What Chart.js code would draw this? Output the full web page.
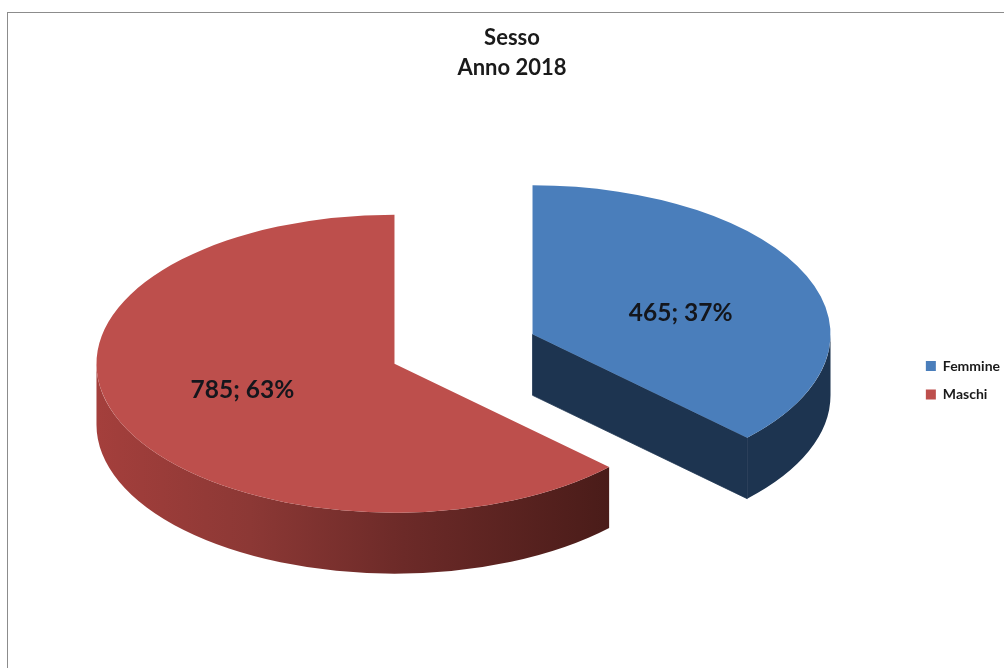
<!DOCTYPE html>
<html>
<head>
<meta charset="utf-8">
<title>Sesso - Anno 2018</title>
<script src="https://cdn.jsdelivr.net/npm/chart.js@4"></script>
<style>
    html, body { margin: 0; padding: 0; background: #fff; overflow: hidden; }
    #frame { position: absolute; left: 7px; top: 12px; right: 0; bottom: 0; border-top: 1px solid #8c8c8c; border-left: 1px solid #8c8c8c; }
    #chart { position: absolute; left: 0; top: 0; }
</style>
</head>
<body>
<div id="frame"></div>
<canvas id="chart" width="1004" height="668"></canvas>
<script>
// Data
const categories = ['Femmine', 'Maschi'];
const values = [465, 785];
const titleLines = ['Sesso', 'Anno 2018'];

const topColors = ['#4a7ebb', '#bd4f4c'];

// 3D look of the pie
const pieX = 463.5;     // pie centre on the page
const pieY = 349;
const squash = 0.5;     // tilt, circle becomes an ellipse
const depth = 61;       // thickness on screen
const explode = 75;     // how far each slice moves out along its bisector
const labelShift = [[0, 10], [-4, -5]];

const total = values.reduce((a, b) => a + b, 0);

function sideFill(ctx, index) {
    if (index === 0) return '#1d3450';
    const g = ctx.createLinearGradient(97, 0, 608, 0);
    g.addColorStop(0, '#a43f3c');
    g.addColorStop(0.3, '#8c3835');
    g.addColorStop(0.6, '#6c2a28');
    g.addColorStop(1, '#4a1c19');
    return g;
}

const pie3d = {
    id: 'pie3d',
    // arcs stay where the controller put their angles, only their centres move
    afterDatasetsUpdate(chart) {
        chart.getDatasetMeta(0).data.forEach(arc => {
            const half = (arc.startAngle + arc.endAngle) / 2;
            arc.x = pieX + Math.cos(half) * explode;
            arc.y = Math.sin(half) * explode;
        });
    },
    afterLayout(chart) {
        // legend sits closer to the right edge than its own padding allows
        chart.legend.left += 6;
    },
    beforeDatasetsDraw(chart) {
        const ctx = chart.ctx;
        const arcs = chart.getDatasetMeta(0).data;
        ctx.save();
        ctx.translate(0, pieY);
        ctx.scale(1, squash);

        const h = depth / squash;
        arcs.forEach((arc, i) => {
            const r = arc.outerRadius;
            ctx.fillStyle = sideFill(ctx, i);
            ctx.strokeStyle = ctx.fillStyle;
            ctx.lineWidth = 1;

            // outer wall, only the part on the front of the ellipse
            const from = Math.max(arc.startAngle, 0);
            const to = Math.min(arc.endAngle, Math.PI);
            if (to > from) {
                ctx.beginPath();
                ctx.arc(arc.x, arc.y, r, from, to);
                ctx.arc(arc.x, arc.y + h, r, to, from, true);
                ctx.closePath();
                ctx.fill();
            }

            // cut faces that look towards the viewer
            [[arc.startAngle, -Math.cos(arc.startAngle)], [arc.endAngle, Math.cos(arc.endAngle)]].forEach(([a, facing]) => {
                if (facing <= 0.001) return;
                const ex = arc.x + Math.cos(a) * r;
                const ey = arc.y + Math.sin(a) * r;
                ctx.beginPath();
                ctx.moveTo(arc.x, arc.y);
                ctx.lineTo(ex, ey);
                ctx.lineTo(ex, ey + h);
                ctx.lineTo(arc.x, arc.y + h);
                ctx.closePath();
                ctx.fill();
                ctx.stroke();
            });
        });
    },
    afterDatasetsDraw(chart) {
        const ctx = chart.ctx;
        ctx.restore();

        // value; percent labels on the top faces
        const arcs = chart.getDatasetMeta(0).data;
        ctx.save();
        ctx.font = 'bold 24.5px Lato';
        ctx.fillStyle = '#14161c';
        ctx.textAlign = 'center';
        ctx.textBaseline = 'middle';
        arcs.forEach((arc, i) => {
            const half = (arc.startAngle + arc.endAngle) / 2;
            const dist = arc.outerRadius * 0.54;
            const x = arc.x + Math.cos(half) * dist + labelShift[i][0];
            const y = pieY + (arc.y + Math.sin(half) * dist) * squash + labelShift[i][1];
            const pct = Math.round(values[i] / total * 100);
            ctx.fillText(values[i] + '; ' + pct + '%', x, y);
        });
        ctx.restore();
    }
};

new Chart(document.getElementById('chart'), {
    type: 'pie',
    data: {
        labels: categories,
        datasets: [{
            data: values,
            backgroundColor: topColors,
            borderWidth: 0,
            clip: false
        }]
    },
    options: {
        responsive: false,
        animation: false,
        radius: 298,
        layout: { padding: { left: 20, right: 0, bottom: 252 } },
        plugins: {
            tooltip: { enabled: false },
            title: {
                display: true,
                text: titleLines,
                color: '#1a1a1a',
                font: { family: 'Lato', size: 22, weight: 'bold', lineHeight: 1.36 },
                padding: { top: 23, bottom: 8 }
            },
            legend: {
                position: 'right',
                align: 'end',
                labels: {
                    boxWidth: 10,
                    boxHeight: 10,
                    padding: 14.5,
                    color: '#1a1a1a',
                    font: { family: 'Lato', size: 14, weight: 'bold' }
                }
            }
        }
    },
    plugins: [pie3d]
});
</script>
</body>
</html>
